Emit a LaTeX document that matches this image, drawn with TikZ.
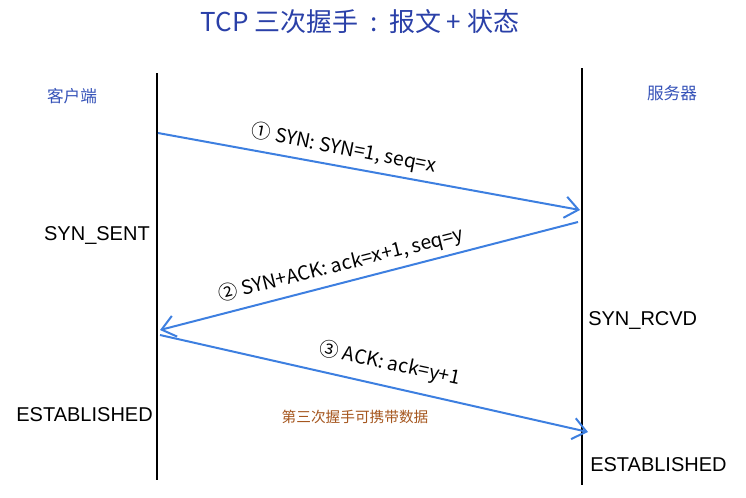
\documentclass[tikz,border=0pt]{standalone}
\usepackage{fontspec}
\setmainfont{Liberation Sans}
\newfontfamily\cjk{Noto Sans CJK SC}
\usetikzlibrary{arrows.meta}
\definecolor{msgblue}{HTML}{3D7FE0}
\definecolor{titleblue}{HTML}{2A40A8}
\definecolor{rolblue}{HTML}{3552B8}
\definecolor{notebrown}{HTML}{A5561E}
\tikzset{
  lifeline/.style={line width=2pt,black},
  msg/.style={line width=1.5pt,msgblue,-{Straight Barb[length=10pt,width=16pt,line width=1.5pt]}},
  msglabel/.style={font=\cjk\fontsize{14.5}{17}\selectfont,inner sep=1pt},
  state/.style={font=\fontsize{15}{18}\selectfont,inner sep=0pt},
  role/.style={font=\cjk\fontsize{12.5}{15}\selectfont,text=rolblue}
}
\begin{document}
\begin{tikzpicture}[x=0.75pt,y=-0.75pt]
  \useasboundingbox (0,0) rectangle (746,497);
  % title
  \node[font=\cjk\fontsize{19.5}{22}\selectfont,text=titleblue] (title) at (360,22) {TCP 三次握手\hspace{0.45em}:\hspace{0.45em}报文 + 状态};
  % the two parties and their time lines
  \node[role] (client) at (72,96) {客户端};
  \node[role] (server) at (672,93) {服务器};
  \coordinate (ctop) at (157,73);  \coordinate (cbot) at (157,480);
  \coordinate (stop) at (582,68);  \coordinate (sbot) at (582,485);
  \draw[lifeline] (ctop) -- (cbot);
  \draw[lifeline] (stop) -- (sbot);
  % end points of the three messages
  \coordinate (c1) at (158,133);  \coordinate (s1) at (580,210);
  \coordinate (s2) at (578,222);  \coordinate (c2) at (160,330);
  \coordinate (c3) at (160,335);  \coordinate (s3) at (588,432);
  \draw[msg] (c1) -- (s1);
  \draw[msg] (s2) -- (c2);
  \draw[msg] (c3) -- (s3);
  \node[msglabel,rotate=-11] (syn) at (344,149) {① SYN: SYN=1, seq=x};
  \node[msglabel,rotate=14] (synack) at (341,265) {② SYN+ACK: ack=x+1, seq=y};
  \node[msglabel,rotate=-12] (ack) at (390,364) {③ ACK: ack=y+1};
  % states
  \node[state,anchor=east] (sent) at (150,235) {SYN\_SENT};
  \node[state,anchor=east] (cest) at (153,415) {ESTABLISHED};
  \node[state,anchor=west] (rcvd) at (588,320) {SYN\_RCVD};
  \node[state,anchor=west] (sest) at (590,465) {ESTABLISHED};
  \node[font=\cjk\fontsize{11}{13}\selectfont,text=notebrown] (data) at (355,417) {第三次握手可携带数据};
\end{tikzpicture}
\end{document}
